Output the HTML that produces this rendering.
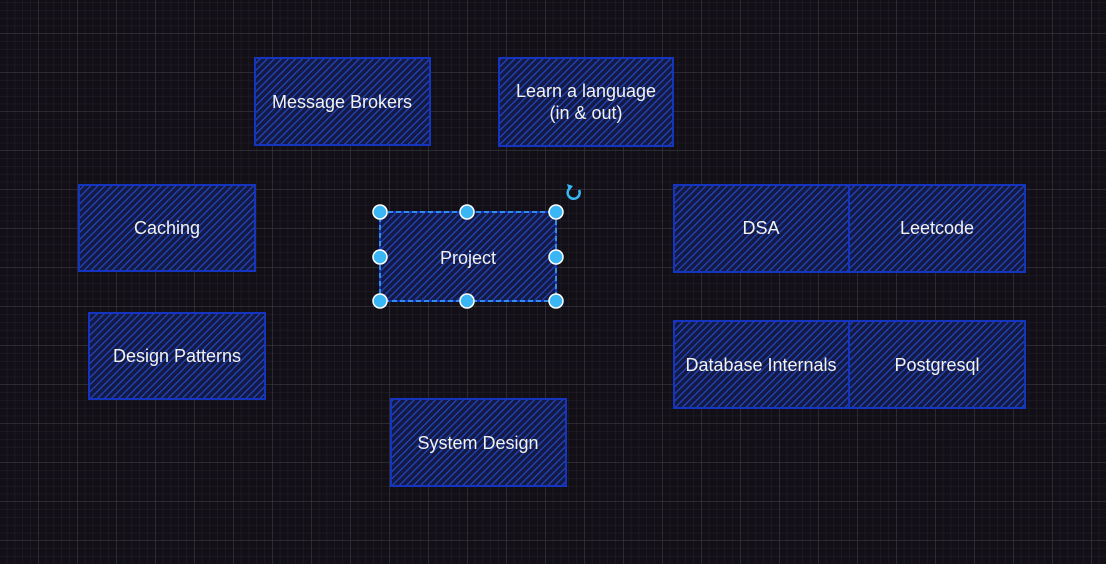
<!DOCTYPE html>
<html><head><meta charset="utf-8"><style>
html,body{margin:0;padding:0;background:#121016;}
body{width:1106px;height:564px;overflow:hidden;position:relative;}
svg{position:absolute;left:0;top:0;}
text{font-family:"Liberation Sans",sans-serif;font-size:18px;fill:#f2f2f2;}
</style></head><body>
<svg width="1106" height="564" xmlns="http://www.w3.org/2000/svg">
<defs>
<pattern id="minor" x="-0.5" y="-5" width="7.8" height="7.8" patternUnits="userSpaceOnUse">
<path d="M7.8 0V7.8M0 7.8H7.8" stroke="#24212c" stroke-width="1" fill="none"/>
</pattern>
<pattern id="major" x="-0.5" y="-5" width="39" height="39" patternUnits="userSpaceOnUse">
<path d="M39 0V39M0 39H39" stroke="#46444c" stroke-width="1" fill="none"/>
</pattern>
<pattern id="hatch" width="5" height="5" patternUnits="userSpaceOnUse" patternTransform="rotate(45)">
<rect width="5" height="5" fill="#141a44"/>
<line x1="0" y1="0" x2="0" y2="5" stroke="#2148c4" stroke-width="2.4"/>
</pattern>
</defs>
<rect width="1106" height="564" fill="url(#minor)"/>
<rect width="1106" height="564" fill="url(#major)"/>
<g stroke="#1535c0" stroke-width="2" fill="url(#hatch)">
<rect x="255" y="58" width="175" height="87"/>
<rect x="499" y="58" width="174" height="88"/>
<rect x="79" y="185" width="176" height="86"/>
<rect x="380" y="212" width="176" height="89"/>
<rect x="674" y="185" width="175" height="87"/>
<rect x="849" y="185" width="176" height="87"/>
<rect x="89" y="313" width="176" height="86"/>
<rect x="674" y="321" width="175" height="87"/>
<rect x="849" y="321" width="176" height="87"/>
<rect x="391" y="399" width="175" height="87"/>
</g>
<rect x="380" y="212" width="176" height="89" fill="none" stroke="#3aaaf0" stroke-width="1.5" stroke-dasharray="5 3"/>
<g fill="#3ab6f4" stroke="#fff" stroke-width="1.5">
<circle cx="380" cy="212" r="7"/><circle cx="467" cy="212" r="7"/><circle cx="556" cy="212" r="7"/>
<circle cx="380" cy="257" r="7"/><circle cx="556" cy="257" r="7"/>
<circle cx="380" cy="301" r="7"/><circle cx="467" cy="301" r="7"/><circle cx="556" cy="301" r="7"/>
</g>
<path d="M579 190 A6 6 0 1 1 570 188" fill="none" stroke="#3ab6f4" stroke-width="2.5"/>
<path d="M567 184 L573 186 L569 191 Z" fill="#3ab6f4"/>
<g text-anchor="middle">
<text x="342" y="108">Message Brokers</text>
<text x="586" y="97">Learn a language</text>
<text x="586" y="119">(in &amp; out)</text>
<text x="167" y="234">Caching</text>
<text x="468" y="264">Project</text>
<text x="761" y="234">DSA</text>
<text x="937" y="234">Leetcode</text>
<text x="177" y="362">Design Patterns</text>
<text x="761" y="371">Database Internals</text>
<text x="937" y="371">Postgresql</text>
<text x="478" y="449">System Design</text>
</g>
</svg>
</body></html>
